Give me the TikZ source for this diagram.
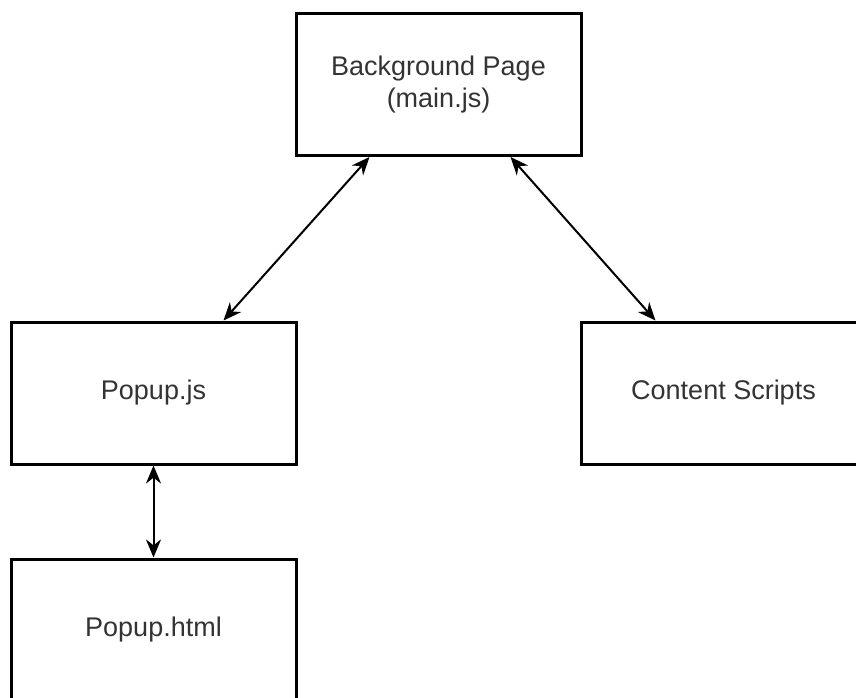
\documentclass[tikz,border=0pt]{standalone}
\usepackage{fontspec}
\setmainfont{Liberation Sans}
\usetikzlibrary{arrows.meta}
\begin{document}
\begin{tikzpicture}[x=1pt, y=-1pt,
    block/.style={draw, line width=3pt, minimum width=285pt, minimum height=142pt,
        inner sep=0pt, align=center, text=black!80,
        font=\fontsize{27}{32}\selectfont},
    link/.style={line width=2pt, {Stealth[length=18pt,width=15pt]}-{Stealth[length=18pt,width=15pt]}}]
    \useasboundingbox (0,0) rectangle (856,697);
    \clip (0,0) rectangle (856,697);
    % Boxes
    \node[block] (bg) at (438.5,84.5) {Background Page\\(main.js)};
    \node[block] (popupjs) at (153.5,393) {Popup.js};
    \node[block] (content) at (723.5,393) {Content Scripts};
    \node[block] (popuphtml) at (153.5,630) {Popup.html};

    % Links
    \draw[link] ([xshift=75pt]bg.south west) -- ([xshift=-74pt]popupjs.north east);
    \draw[link] ([xshift=-72pt]bg.south east) -- ([xshift=76pt]content.north west);
    \draw[link] (popupjs) -- (popuphtml);
\end{tikzpicture}
\end{document}
